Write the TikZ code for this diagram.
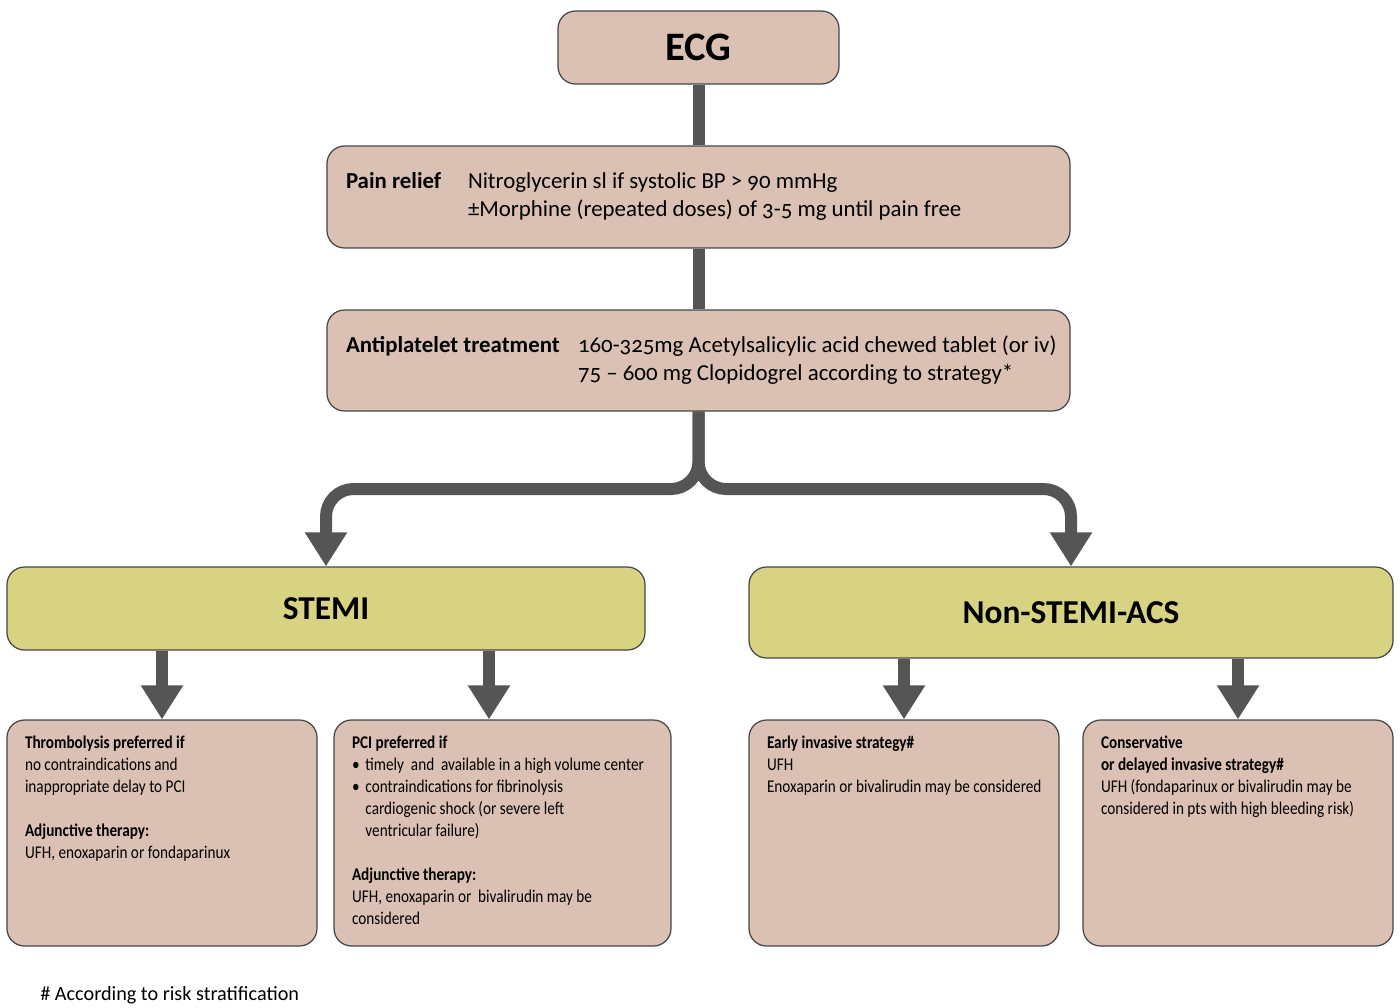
\documentclass[tikz,border=0pt]{standalone}
\usepackage{fontspec}
\setmainfont{Carlito}[Numbers=OldStyle]
\newfontfamily\narrowfont{Carlito}[FakeStretch=0.85,Numbers=OldStyle]
\usetikzlibrary{arrows.meta}
\definecolor{boxpink}{RGB}{218,193,180}
\definecolor{boxyellow}{RGB}{216,211,131}
\definecolor{bargrey}{RGB}{85,85,85}
\definecolor{edgegrey}{RGB}{70,70,70}

\begin{document}
\begin{tikzpicture}[
    pinkbox/.style={draw=edgegrey,fill=boxpink,rounded corners=10pt,line width=0.7pt,inner sep=0},
    yellowbox/.style={draw=edgegrey,fill=boxyellow,rounded corners=10pt,line width=0.7pt,inner sep=0,font=\bfseries\fontsize{19}{22}\selectfont},
    infobox/.style={pinkbox,inner xsep=0.3cm,inner ysep=0.32cm,font=\narrowfont\fontsize{10.2}{12.5}\selectfont},
    bar/.style={draw=bargrey,line width=0.24cm},
    arrowbar/.style={bar,-{Triangle[width=0.8cm,length=0.68cm]}},
    ]
    \useasboundingbox (0,0) rectangle (28,-20.14);
    % top of the chart
    \node[pinkbox,minimum width=5.62cm,minimum height=1.46cm,font=\bfseries\fontsize{23}{26}\selectfont] (ecg) at (13.97,-0.95) {ECG};
    \node[pinkbox,minimum width=14.86cm,minimum height=2.04cm,font=\fontsize{13}{16}\selectfont] (pain) at (13.97,-3.94)
        {\makebox[14.1cm][l]{\begin{tabular}{@{}p{2.44cm}@{}l@{}}
        \textbf{Pain relief} & Nitroglycerin sl if systolic BP > 90 mmHg\\
        & ±Morphine (repeated doses) of 3-5 mg until pain free
        \end{tabular}}};
    \node[pinkbox,minimum width=14.86cm,minimum height=2.02cm,font=\fontsize{13}{16}\selectfont] (anti) at (13.97,-7.21)
        {\makebox[14.1cm][l]{\begin{tabular}{@{}p{4.64cm}@{}l@{}}
        \textbf{Antiplatelet treatment} & 160-325mg Acetylsalicylic acid chewed tablet (or iv)\\
        & 75 -- 600 mg Clopidogrel according to strategy*
        \end{tabular}}};
    % the two branches
    \node[yellowbox,minimum width=12.76cm,minimum height=1.66cm] (stemi) at (6.52,-12.17) {STEMI};
    \node[yellowbox,minimum width=12.88cm,minimum height=1.82cm] (nstemi) at (21.42,-12.25) {Non-STEMI-ACS};
    % treatment boxes
    \node[infobox] (thromb) at (3.24,-16.66) {\parbox[c][3.88cm][t]{5.6cm}{\raggedright
        \hspace*{0.06cm}\textbf{Thrombolysis preferred if}\\
        \hspace*{0.06cm}no contraindications and\\
        \hspace*{0.06cm}inappropriate delay to PCI\\[12.5pt]
        \hspace*{0.06cm}\textbf{Adjunctive therapy:}\\
        \hspace*{0.06cm}UFH, enoxaparin or fondaparinux}};
    \node[infobox] (pci) at (10.05,-16.66) {\parbox[c][3.88cm][t]{6.14cm}{\raggedright
        \hspace*{0.06cm}\textbf{PCI preferred if}\\
        \hspace*{0.06cm}\makebox[0.75em][l]{•}timely\ \ and\ \ available in a high volume center\\
        \hspace*{0.06cm}\makebox[0.75em][l]{•}contraindications for fibrinolysis\\
        \hspace*{0.06cm}\hspace*{0.75em}cardiogenic shock (or severe left\\
        \hspace*{0.06cm}\hspace*{0.75em}ventricular failure)\\[12.5pt]
        \hspace*{0.06cm}\textbf{Adjunctive therapy:}\\
        \hspace*{0.06cm}UFH, enoxaparin or\ \ bivalirudin may be\\
        \hspace*{0.06cm}considered}};
    \node[infobox] (early) at (18.08,-16.66) {\parbox[c][3.88cm][t]{5.6cm}{\raggedright
        \hspace*{0.06cm}\textbf{Early invasive strategy\#}\\
        \hspace*{0.06cm}UFH\\
        \hspace*{0.06cm}Enoxaparin or bivalirudin may be considered}};
    \node[infobox] (cons) at (24.76,-16.66) {\parbox[c][3.88cm][t]{5.6cm}{\raggedright
        \hspace*{0.06cm}\textbf{Conservative}\\
        \hspace*{0.06cm}\textbf{or delayed invasive strategy\#}\\
        \hspace*{0.06cm}UFH (fondaparinux or bivalirudin may be\\
        \hspace*{0.06cm}considered in pts with high bleeding risk)}};
    \node[anchor=west,inner sep=0,font=\fontsize{11.5}{14}\selectfont] (note) at (0.8,-19.9) {\# According to risk stratification};
    % connectors
    \coordinate (fork) at (13.97,-9.78);
    \draw[bar] (ecg.south) -- (pain.north);
    \draw[bar] (pain.south) -- (anti.north);
    \draw[arrowbar,rounded corners=0.55cm] (anti.south) -- (fork) -| (stemi.north);
    \draw[arrowbar,rounded corners=0.55cm] (anti.south) -- (fork) -| (nstemi.north);
    \draw[arrowbar] (stemi.south -| thromb.north) -- (thromb.north);
    \draw[arrowbar] ([xshift=-0.27cm]stemi.south -| pci.north) -- ([xshift=-0.27cm]pci.north);
    \draw[arrowbar] (nstemi.south -| early.north) -- (early.north);
    \draw[arrowbar] (nstemi.south -| cons.north) -- (cons.north);
\end{tikzpicture}
\end{document}
